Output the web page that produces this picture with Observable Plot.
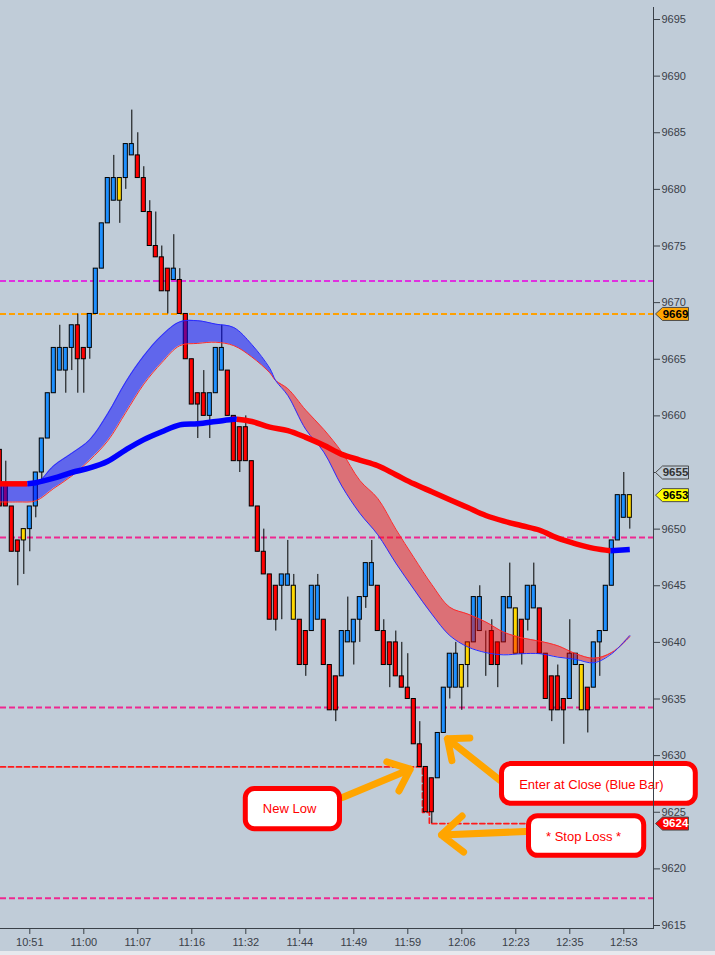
<!DOCTYPE html>
<html>
<head>
<meta charset="utf-8">
<script src="https://cdn.jsdelivr.net/npm/d3@7"></script>
<script src="https://cdn.jsdelivr.net/npm/@observablehq/plot@0.6"></script>
<style>
html, body { margin: 0; padding: 0; background: #c0ccd8; }
#chart svg { display: block; }
</style>
</head>
<body>
<div id="chart"></div>
<script>
// ---------- data ----------
const barOpen  = [9657,9654,9652,9649,9649,9650,9652,9655,9658,9662,9664,9664,9666,9668,9666,9666,9669,9673,9677,9679,
                  9681,9681,9683,9683,9681,9678,9675,9674,9673,9672,9672,9669,9665,9662,9662,9660,9662,9664,9664,9660,
                  9659,9659,9656,9652,9648,9646,9645,9645,9645,9645,9642,9641,9641,9642,9642,9638,9637,9637,9640,9640,
                  9642,9644,9645,9645,9641,9640,9640,9637,9636,9635,9631,9629,9628,9628,9632,9636,9636,9638,9638,9640,
                  9641,9641,9641,9640,9640,9643,9643,9642,9642,9643,9643,9639,9637,9637,9635,9635,9638,9638,9636,9636,
                  9640,9641,9645,9649,9651,9651];
const barHigh  = [9657,9656,9652,9649,9650,9652,9655,9658,9662,9666,9668,9666,9668,9669,9666,9669,9673,9677,9681,9683,
                  9681,9684,9687,9685,9682,9679,9678,9675,9673,9676,9673,9669,9665,9662,9664,9662,9666,9668,9664,9660,
                  9659,9660,9656,9652,9650,9646,9645,9646,9649,9646,9642,9641,9645,9646,9642,9638,9637,9641,9644,9642,
                  9644,9647,9649,9645,9642,9640,9641,9640,9639,9635,9633,9629,9628,9632,9636,9639,9640,9638,9640,9644,
                  9645,9641,9642,9640,9644,9647,9643,9642,9645,9647,9643,9639,9637,9638,9635,9642,9639,9638,9636,9640,
                  9641,9645,9649,9653,9655,9653];
const barLow   = [9652,9652,9648,9645,9646,9648,9651,9654,9658,9662,9664,9662,9664,9662,9662,9665,9669,9673,9677,9679,
                  9677,9680,9683,9681,9678,9675,9674,9671,9669,9672,9669,9665,9661,9658,9660,9658,9662,9664,9660,9656,
                  9655,9656,9652,9648,9646,9642,9641,9642,9645,9642,9638,9637,9641,9642,9638,9634,9633,9637,9640,9638,
                  9640,9643,9645,9641,9638,9636,9637,9636,9635,9631,9629,9625,9624,9628,9632,9635,9636,9634,9636,9640,
                  9641,9637,9638,9636,9640,9643,9639,9638,9641,9643,9639,9635,9633,9634,9631,9635,9638,9634,9632,9636,
                  9637,9641,9645,9649,9651,9650];
const barClose = [9652,9652,9648,9648,9650,9652,9655,9658,9662,9666,9666,9666,9668,9665,9665,9669,9673,9677,9681,9681,
                  9679,9684,9684,9681,9678,9675,9674,9671,9671,9673,9669,9665,9661,9661,9660,9662,9666,9666,9660,9656,
                  9656,9656,9652,9648,9646,9642,9642,9646,9646,9642,9638,9638,9645,9645,9638,9634,9634,9641,9641,9642,
                  9644,9647,9647,9641,9638,9638,9637,9636,9635,9631,9629,9625,9625,9632,9636,9639,9639,9636,9640,9644,
                  9644,9641,9638,9638,9644,9644,9639,9639,9645,9645,9639,9635,9634,9634,9634,9639,9639,9634,9634,9640,
                  9641,9645,9649,9653,9653,9653];
// u = blue up bar, d = red down bar, y = yellow bar, n = doji
const barKind  = ["d","d","d","d","y","u","u","u","u","u","u","u","u","d","d","u","u","u","u","u",
                  "y","u","u","d","d","d","d","d","d","u","d","d","d","d","d","u","u","u","d","d",
                  "d","d","d","d","d","d","d","u","u","y","d","d","u","u","d","d","d","u","u","u",
                  "u","u","u","d","d","d","d","d","d","d","d","d","d","u","u","u","u","y","y","u",
                  "u","n","d","d","u","u","y","d","u","u","d","d","d","d","d","u","u","y","d","u",
                  "u","u","u","u","u","y"];

// time labels of the bottom axis and the bars they sit under
const timeTickBars   = [5,14,23,32,41,50,59,68,77,86,95,104];
const timeTickLabels = ["10:51","11:00","11:07","11:16","11:32","11:44","11:49","11:59","12:06","12:23","12:35","12:53"];
const priceTicks = [9615,9620,9625,9630,9635,9640,9645,9650,9655,9660,9665,9670,9675,9680,9685,9690,9695];

// fast moving-average ribbon (line A = blue edge, line B = red edge)
const ribbonBars = [0,3,6,9,12,15,18,21,24,27,30,33,36,39,42,45,46,48,51,54,57,60,63,66,69,72,75,78,81,84,87,90,93,96,99,102,105];
const ribbonA    = [9653.8,9653.9,9654.0,9655.6,9656.7,9657.9,9660.2,9663.0,9665.3,9667.1,9668.3,9668.4,9668.1,9667.8,9666.3,9664.2,9663.1,
                    9661.8,9658.8,9656.8,9653.8,9651.4,9649.5,9647.0,9644.7,9642.5,9640.6,9639.6,9639.1,9638.9,9639.0,9639.0,9638.7,9638.5,9638.2,9639.0,9640.6];
const ribbonB    = [9652.4,9652.4,9652.5,9653.6,9654.7,9656.1,9657.8,9660.3,9662.8,9664.7,9666.2,9666.4,9666.5,9666.2,9665.2,9663.8,9663.1,
                    9662.4,9660.5,9658.8,9656.8,9654.3,9652.7,9650.0,9647.5,9645.1,9643.1,9642.5,9641.8,9640.9,9640.4,9640.1,9639.7,9639.0,9638.6,9639.1,9640.5];
const ribbonCross = 46;

// slow moving average (thick line), its colour turns
const slowBars = [0,3,4.6,6,9,12,15,18,21,24,27,30,33,36,39,39.5,42,45,48,51,54,57,60,63,66,69,72,75,78,81,84,87,90,93,96,99,101.8,105];
const slowVals = [9654.0,9654.0,9654.0,9654.1,9654.5,9655.0,9655.4,9656.0,9657.0,9657.9,9658.6,9659.2,9659.3,9659.5,9659.7,9659.7,
                  9659.5,9659.0,9658.7,9658.1,9657.4,9656.6,9656.1,9655.6,9654.8,9654.0,9653.3,9652.6,9651.9,9651.2,9650.7,9650.3,
                  9649.9,9649.2,9648.7,9648.3,9648.1,9648.2];
const slowTurns  = [4.6, 39.5, 101.8];
const slowColors = ["#ff0000", "#0000ff", "#ff0000", "#0000ff"];

// horizontal levels
const levelMagenta = [9671.9];
const levelOrange  = [9669];
const levelPink    = [9649.25, 9634.25, 9617.4];
const newLowLevel  = 9629;
const stopLevel    = 9624;
const newLowBar    = 71;
const stopBar      = 72;

// price tags on the right axis (they cover the axis label beneath them)
const tagValues = [9669, 9655, 9653, 9624];
const tagFills  = ["#ffa500", "#c0ccd8", "#ffff00", "#ff0000"];
const tagText   = ["#000000", "#333333", "#000000", "#ffffff"];

// call-outs
const callouts = [
  {text: "New Low",                  x1: 41.0, x2: 56.7,  y1: 9623.5,  y2: 9627.05, tx: 48.3, ty: 9625.3},
  {text: "Enter at Close (Blue Bar)", x1: 83.7, x2: 116.0, y1: 9625.75, y2: 9629.25, tx: 98.6, ty: 9627.45},
  {text: "* Stop Loss *",            x1: 88.2, x2: 107.4, y1: 9621.15, y2: 9624.65, tx: 97.3, ty: 9622.85}
];
const arrows = [
  {x1: 57.1, y1: 9626.3, x2: 68.4, y2: 9628.8},
  {x1: 83.4, y1: 9627.8, x2: 74.6, y2: 9631.5},
  {x1: 87.6, y1: 9623.3, x2: 73.6, y2: 9623.0}
];

// ---------- build ----------
const bars = barOpen.map((o, i) => ({i, open: o, high: barHigh[i], low: barLow[i], close: barClose[i], kind: barKind[i]}));
const kindColor = {u: "#1e90ff", d: "#ff0000", y: "#ffd700", n: "#ffd700"};

const ribbon = ribbonBars.map((b, k) => ({i: b, a: ribbonA[k], b: ribbonB[k]}));
const ribbonSeg = [
  ...ribbon.filter(d => d.i <= ribbonCross).map(d => ({...d, seg: 0})),
  ...ribbon.filter(d => d.i >= ribbonCross).map(d => ({...d, seg: 1}))
];

const slow = [];
const edges = [-Infinity, ...slowTurns, Infinity];
for (let s = 0; s < edges.length - 1; s++) {
  slowBars.forEach((b, k) => {
    if (b >= edges[s] && b <= edges[s + 1]) slow.push({i: b, v: slowVals[k], seg: s, c: slowColors[s]});
  });
}

const x0 = 0.7 / 6;
const xDomain = [x0, x0 + 653 / 6];
const nlEdge = newLowBar - 0.55, stEdge = stopBar - 0.4;
const newLowPath = [
  {i: xDomain[0], v: newLowLevel}, {i: nlEdge, v: newLowLevel}, {i: nlEdge, v: stopLevel + 1},
  {i: stEdge, v: stopLevel + 1}, {i: stEdge, v: stopLevel}, {i: 87.6, v: stopLevel}
];

const tags = tagValues.map((v, k) => ({v, fill: tagFills[k], text: tagText[k]}));
const tagSymbol = {
  draw(ctx) {
    ctx.moveTo(0, 0); ctx.lineTo(7, -6.5); ctx.lineTo(33, -6.5);
    ctx.lineTo(33, 6.5); ctx.lineTo(7, 6.5); ctx.closePath();
  }
};
// an axis label lying fully under a tag is hidden, as in the picture
const hiddenTickLabels = priceTicks.filter(t => tagValues.includes(t));

const dash = "6,3";
const plot = Plot.plot({
  width: 715, height: 955,
  marginLeft: 0, marginRight: 62, marginTop: 19, marginBottom: 27, insetBottom: 3,
  style: {background: "#c0ccd8", fontFamily: "Liberation Sans, Arial, sans-serif", fontSize: "11px", color: "#3a4048", overflow: "visible"},
  x: {domain: xDomain, ticks: timeTickBars, tickFormat: d => timeTickLabels[timeTickBars.indexOf(d)], tickSize: 6, tickPadding: 4, line: true, label: null},
  y: {domain: [9615, 9695], axis: "right", ticks: priceTicks, tickFormat: d => hiddenTickLabels.includes(d) ? "" : String(d), tickSize: 6, tickPadding: 2, line: true, label: null},
  color: {type: "identity"},
  marks: [
    Plot.ruleY(levelMagenta, {stroke: "#e030e0", strokeWidth: 2, strokeDasharray: dash}),
    Plot.ruleY(levelOrange, {stroke: "#ffa000", strokeWidth: 2, strokeDasharray: dash}),
    Plot.ruleY(levelPink, {stroke: "#ee2890", strokeWidth: 2, strokeDasharray: dash}),
    Plot.line(newLowPath, {x: "i", y: "v", stroke: "#ff1a1a", strokeWidth: 1.8, strokeDasharray: "5,3", curve: "linear"}),
    // candles
    Plot.ruleX(bars, {x: "i", y1: "low", y2: "high", stroke: "#000", strokeWidth: 1, clip: true}),
    Plot.rect(bars, {x1: d => d.i - 0.34, x2: d => d.i + 0.34, y1: "open", y2: "close", fill: d => kindColor[d.kind], stroke: "#000", strokeWidth: 1, clip: true}),
    // fast ribbon
    Plot.areaY(ribbonSeg, {x: "i", y1: "a", y2: "b", z: "seg", fill: d => d.seg === 0 ? "#0000ff" : "#ff0000", fillOpacity: d => d.seg === 0 ? 0.5 : 0.45, curve: "catmull-rom", clip: true}),
    Plot.line(ribbon, {x: "i", y: "b", stroke: "#ff2a2a", strokeWidth: 1, curve: "catmull-rom", clip: true}),
    Plot.line(ribbon, {x: "i", y: "a", stroke: "#2a2aff", strokeWidth: 1, curve: "catmull-rom", clip: true}),
    // slow MA
    Plot.line(slow, {x: "i", y: "v", z: "seg", stroke: "c", strokeWidth: 5.5, curve: "catmull-rom", strokeLinecap: "butt", clip: true}),
    // price tags
    Plot.dot(tags, {y: "v", frameAnchor: "right", dx: 2, symbol: tagSymbol, fill: "fill", stroke: "#4a4a4a", strokeWidth: 1}),
    Plot.text(tags, {y: "v", frameAnchor: "right", textAnchor: "middle", dx: 22, text: d => String(d.v), fill: "text", fontWeight: "bold", fontSize: 11.5}),
    // call-outs
    Plot.arrow(arrows, {x1: "x1", y1: "y1", x2: "x2", y2: "y2", stroke: "#ffa500", strokeWidth: 7, headLength: 18, headAngle: 80, ariaLabel: "callout-arrow"}),
    Plot.rect(callouts, {x1: "x1", x2: "x2", y1: "y1", y2: "y2", fill: "#fff", stroke: "#ff0000", strokeWidth: 5, rx: 9, ariaLabel: "callout-box"}),
    Plot.text(callouts, {x: "tx", y: "ty", text: "text", fill: "#ff0000", fontSize: 13})
  ]
});

// decorations: drop shadows, axis extension
const svg = d3.select(plot);
const defs = svg.insert("defs", ":first-child");
const f = defs.append("filter").attr("id", "shadow").attr("x", "-20%").attr("y", "-30%").attr("width", "150%").attr("height", "170%");
f.append("feDropShadow").attr("dx", 3).attr("dy", 3).attr("stdDeviation", 2).attr("flood-color", "#000").attr("flood-opacity", 0.55);
svg.selectAll('g[aria-label="callout-box"], g[aria-label="callout-arrow"]').attr("filter", "url(#shadow)");
svg.append("line").attr("x1", 653.5).attr("x2", 653.5).attr("y1", 7).attr("y2", 928).attr("stroke", "#3a4048");
svg.append("rect").attr("x", 0).attr("y", 951).attr("width", 715).attr("height", 4).attr("fill", "#e6e9ee");

document.getElementById("chart").appendChild(plot);
</script>
</body>
</html>
